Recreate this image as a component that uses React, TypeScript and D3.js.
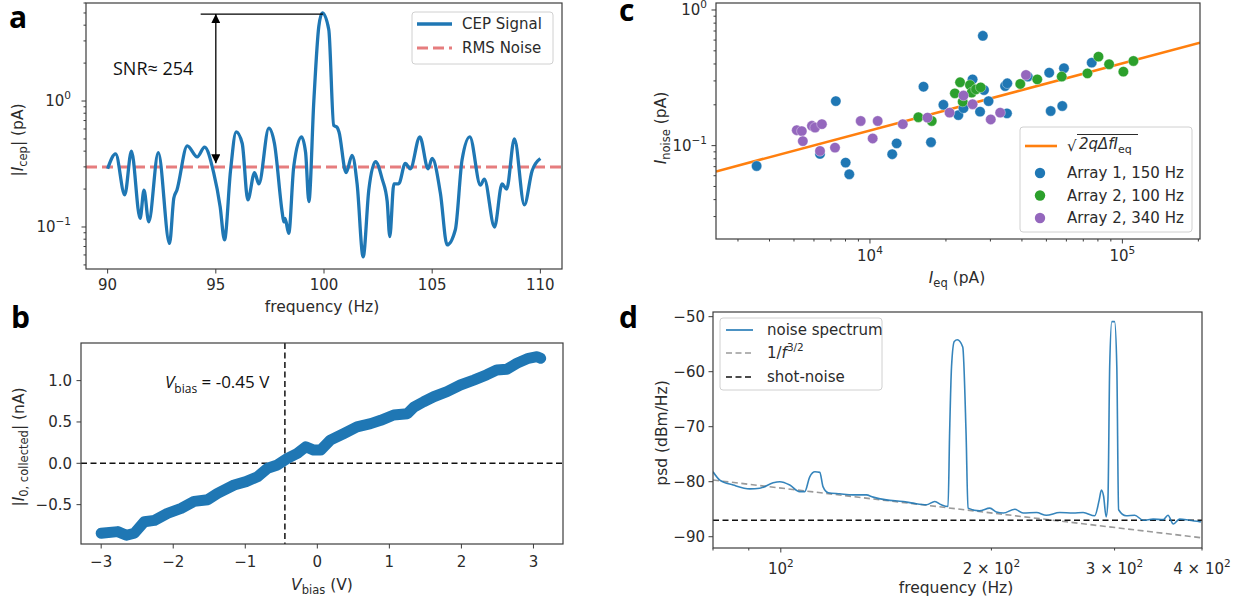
import React from "react";
import * as d3 from "d3";

const FONT = "DejaVu Sans";
const ANNOT = "Open Sans";
const BLUE = "#1f77b4";
const ORANGE = "#ff7f0e";
const GREEN = "#2ca02c";
const PURPLE = "#9467bd";
const AXIS = "#3c3c3c";
const INK = "#2b2b2b";

// ---- panel a: CEP spectrum
const cepFreq = [90.0, 90.37, 90.79, 91.1, 91.5, 91.68, 91.9, 92.34, 92.86, 93.06, 93.2, 93.68, 94.14, 94.48, 94.9, 95.2, 95.4, 95.68, 95.94, 96.22, 96.48, 96.79, 96.99, 97.45, 97.71, 98.07, 98.14, 98.2, 98.37, 98.6, 98.96, 99.15, 99.3, 99.53, 99.76, 99.92, 100.22, 100.45, 100.6, 100.69, 101.02, 101.3, 101.53, 101.81, 102.07, 102.38, 102.69, 102.92, 103.04, 103.23, 103.45, 103.76, 103.99, 104.43, 104.81, 105.0, 105.38, 105.69, 106.07, 106.38, 106.74, 107.23, 107.41, 107.88, 108.23, 108.44, 108.8, 109.26, 109.62, 110.0];
const cepAmp = [0.29, 0.38, 0.18, 0.4, 0.117, 0.196, 0.11, 0.39, 0.074, 0.17, 0.196, 0.44, 0.36, 0.43, 0.27, 0.145, 0.079, 0.28, 0.57, 0.46, 0.164, 0.27, 0.22, 0.61, 0.46, 0.13, 0.11, 0.117, 0.089, 0.3, 0.52, 0.39, 0.159, 1.0, 3.9, 5.0, 3.7, 0.64, 0.62, 0.57, 0.27, 0.37, 0.22, 0.058, 0.196, 0.33, 0.24, 0.16, 0.084, 0.22, 0.22, 0.32, 0.29, 0.52, 0.29, 0.35, 0.185, 0.072, 0.095, 0.34, 0.52, 0.215, 0.24, 0.1, 0.22, 0.2, 0.5, 0.15, 0.28, 0.35];
const rmsNoise = 0.3;
const snrTop = 4.9;
const snrBottom = 0.32;
const snrArrowFreq = 95;
const snrBarFreq = [94.3, 99.95];
const aXTicks = [90, 95, 100, 105, 110];
const aYTicks = [1, 0.1];
const aYExp = ["0", "\u22121"];

// ---- panel b: I-V curve
const biasV = [-3.0, -2.77, -2.65, -2.54, -2.4, -2.26, -2.08, -1.89, -1.71, -1.52, -1.385, -1.155, -0.99, -0.83, -0.69, -0.554, -0.415, -0.277, -0.16, -0.05, 0.046, 0.18, 0.37, 0.55, 0.74, 0.88, 1.06, 1.25, 1.34, 1.476, 1.615, 1.8, 1.985, 2.17, 2.35, 2.49, 2.63, 2.77, 2.93, 3.05, 3.1];
const biasI = [-0.846, -0.826, -0.87, -0.846, -0.706, -0.69, -0.605, -0.545, -0.46, -0.44, -0.363, -0.262, -0.222, -0.162, -0.06, -0.02, 0.06, 0.12, 0.2, 0.16, 0.16, 0.28, 0.36, 0.44, 0.48, 0.52, 0.584, 0.6, 0.68, 0.745, 0.805, 0.866, 0.947, 1.007, 1.07, 1.128, 1.137, 1.21, 1.27, 1.29, 1.27];
const vZero = -0.45;
const bXTicks = [-3, -2, -1, 0, 1, 2, 3];
const bYTicks = [-0.5, 0, 0.5, 1.0];

// ---- panel c: noise vs current
const array1: [number, number][] = [[3556, 0.0708], [6340, 0.0869], [7325, 0.213], [8010, 0.075], [8280, 0.0615], [12250, 0.0865], [12760, 0.104], [16300, 0.272], [17450, 0.106], [19540, 0.2], [22400, 0.168], [23470, 0.189], [25500, 0.308], [27300, 0.178], [28000, 0.645], [28300, 0.257], [29500, 0.213], [34300, 0.275], [35000, 0.288], [34900, 0.173], [42200, 0.323], [51300, 0.345], [52000, 0.18], [58700, 0.372], [57800, 0.196], [75600, 0.409]];
const array2at100: [number, number][] = [[15550, 0.162], [17570, 0.152], [21700, 0.243], [22750, 0.293], [23300, 0.211], [24900, 0.28], [25300, 0.246], [26300, 0.26], [27450, 0.269], [39400, 0.285], [46000, 0.308], [57500, 0.323], [72700, 0.341], [80400, 0.453], [88600, 0.398], [100900, 0.351], [110600, 0.421]];
const array2at340: [number, number][] = [[5130, 0.13], [5370, 0.128], [5420, 0.108], [5890, 0.14], [6060, 0.136], [6450, 0.144], [6340, 0.0913], [7270, 0.0967], [9190, 0.152], [10250, 0.113], [10730, 0.152], [13490, 0.144], [16900, 0.161], [20670, 0.175], [23470, 0.234], [25500, 0.202], [30100, 0.156], [32800, 0.175], [41500, 0.332]];
const fitIeq = [2455, 203000];
const fitNoise = [0.0645, 0.574];
const cSeries = [
  { name: "Array 1, 150 Hz", color: BLUE, pts: array1 },
  { name: "Array 2, 100 Hz", color: GREEN, pts: array2at100 },
  { name: "Array 2, 340 Hz", color: PURPLE, pts: array2at340 },
];

// ---- panel d: noise spectrum
const psdFreq = [80.0, 81.8, 85.5, 90.3, 93.3, 97.5, 99.7, 103, 106.4, 108.2, 110, 111.9, 113.7, 114.9, 116.9, 121.4, 126.8, 132.5, 135.5, 141.5, 149.6, 154.5, 161.5, 166, 169.7, 173.4, 174.3, 175.4, 177, 178.8, 182, 184, 185.2, 192.3, 199, 203.3, 208, 216, 222, 232, 239.6, 250.4, 261.7, 270.5, 281, 285.2, 287.3, 289.3, 291.8, 293.5, 295.2, 297.3, 300, 302.2, 304, 311.6, 320.5, 329.6, 340.6, 352, 357.6, 364, 371.5, 383.7, 398.5];
const psdVal = [-78.2, -79.7, -80.6, -81.3, -81.2, -80.2, -80.0, -80.6, -81.8, -81.8, -79.1, -78.2, -78.3, -80.9, -82.0, -82.2, -82.4, -82.4, -82.8, -83.3, -83.6, -83.9, -84.2, -83.6, -84.2, -84.5, -71.2, -59.1, -54.5, -54.2, -55.5, -71.2, -84.8, -85.3, -84.8, -85.5, -85.7, -85.0, -85.7, -85.6, -86.1, -85.6, -85.7, -85.6, -86.2, -83.3, -81.5, -82.6, -86.4, -83.3, -59.1, -50.9, -50.9, -59.1, -85.1, -86.2, -86.1, -87.0, -86.8, -86.9, -86.1, -87.7, -86.8, -87.0, -87.3];
const shotNoise = -87;
const powerLawF = [80, 400];
const powerLawPsd = [-79.7, -90.2];
const dXTicks = [100, 200, 300, 400];
const dXPrefix = ["", "2 \u00d7 ", "3 \u00d7 ", "4 \u00d7 "];
const dYTicks = [-50, -60, -70, -80, -90];

// scales
const xA = d3.scaleLinear().domain([89, 111]).range([86, 562]);
const yA = d3.scaleLog().domain([0.0464, 6.0]).range([269, 3]);
const xB = d3.scaleLinear().domain([-3.28, 3.41]).range([81, 563]);
const yB = d3.scaleLinear().domain([-0.976, 1.455]).range([544, 343]);
const xC = d3.scaleLog().domain([2455, 203000]).range([716, 1200]);
const yC = d3.scaleLog().domain([0.0205, 1.126]).range([239, 3]);
const xD = d3.scaleLog().domain([80, 400]).range([713, 1202]);
const yD = d3.scaleLinear().domain([-92.05, -49.15]).range([548, 312]);

const fmtInt = d3.format("d");
const fmt1 = d3.format(".1f");

function logMinor(lo: number, hi: number) {
  const out: number[] = [];
  for (let e = Math.floor(Math.log10(lo)); e <= Math.ceil(Math.log10(hi)); e++) {
    for (let k = 2; k <= 9; k++) {
      const v = k * Math.pow(10, e);
      if (v >= lo * 0.999 && v <= hi * 1.001) out.push(v);
    }
  }
  return out;
}

function Frame({ x, y }: { x: any; y: any }) {
  const [x0, x1] = x.range();
  const [y1, y0] = y.range();
  return <rect x={x0} y={y0} width={x1 - x0} height={y1 - y0} fill="none" stroke={AXIS} strokeWidth={1.2} />;
}

function BottomTicks({ x, y, ticks, len = 4.5 }: any) {
  const yb = y.range()[0];
  return (
    <g stroke={AXIS} strokeWidth={1}>
      {ticks.map((t: number, i: number) => (
        <line key={i} x1={x(t)} x2={x(t)} y1={yb} y2={yb + len} />
      ))}
    </g>
  );
}

function LeftTicks({ x, y, ticks, len = 4.5 }: any) {
  const xl = x.range()[0];
  return (
    <g stroke={AXIS} strokeWidth={1}>
      {ticks.map((t: number, i: number) => (
        <line key={i} x1={xl - len} x2={xl} y1={y(t)} y2={y(t)} />
      ))}
    </g>
  );
}

const tickText = { fontFamily: FONT, fontSize: 15, fill: INK } as const;
const labelText = { fontFamily: FONT, fontSize: 15.5, fill: INK } as const;

function PanelA() {
  const line = d3.line<number>().x((_, i) => xA(cepFreq[i])).y((d) => yA(d)).curve(d3.curveMonotoneX);
  return (
    <g>
      <defs>
        <clipPath id="clipA"><rect x={86} y={3} width={476} height={266} /></clipPath>
        <marker id="arrowHead" viewBox="0 0 10 10" refX={10} refY={5} markerWidth={7} markerHeight={7} orient="auto-start-reverse">
          <path d="M0,0 L10,5 L0,10 z" fill="#000" />
        </marker>
      </defs>
      <g clipPath="url(#clipA)">
        <line x1={86} x2={562} y1={yA(rmsNoise)} y2={yA(rmsNoise)} stroke="#e67d7e" strokeWidth={3} strokeDasharray="11,5" />
        <path d={line(cepAmp) || ""} fill="none" stroke={BLUE} strokeWidth={3.3} strokeLinejoin="round" />
      </g>
      <line x1={xA(snrBarFreq[0])} x2={xA(snrBarFreq[1])} y1={yA(snrTop)} y2={yA(snrTop)} stroke="#000" strokeWidth={1.3} />
      <line x1={xA(snrArrowFreq)} x2={xA(snrArrowFreq)} y1={yA(snrTop)} y2={yA(snrBottom)} stroke="#000" strokeWidth={1.3}
        markerStart="url(#arrowHead)" markerEnd="url(#arrowHead)" />
      <text x={113} y={75} fontFamily={ANNOT} fontSize={18} fill="#111">SNR≈ 254</text>
      <Frame x={xA} y={yA} />
      <BottomTicks x={xA} y={yA} ticks={aXTicks} />
      <LeftTicks x={xA} y={yA} ticks={aYTicks} />
      <LeftTicks x={xA} y={yA} ticks={logMinor(0.0464, 6.0).filter((v) => v !== 1)} len={2.5} />
      {aXTicks.map((t, i) => (
        <text key={i} x={xA(t)} y={290} textAnchor="middle" {...tickText}>{fmtInt(t)}</text>
      ))}
      {aYTicks.map((t, i) => (
        <text key={i} x={71} y={yA(t) + 5} textAnchor="end" {...tickText}>
          10<tspan dy={-7} fontSize={10.5}>{aYExp[i]}</tspan>
        </text>
      ))}
      <text x={322} y={312} textAnchor="middle" {...labelText}>frequency (Hz)</text>
      <text transform="translate(23,140) rotate(-90)" textAnchor="middle" {...labelText}>
        |<tspan fontStyle="italic">I</tspan><tspan dy={4} fontSize={11.5}>cep</tspan><tspan dy={-4}>| (pA)</tspan>
      </text>
      {/* legend */}
      <rect x={412} y={12} width={141} height={52} rx={3} fill="#fff" stroke="#d0d0d0" />
      <line x1={417} x2={452} y1={24} y2={24} stroke={BLUE} strokeWidth={3.3} />
      <text x={462} y={29} {...tickText}>CEP Signal</text>
      <line x1={417} x2={452} y1={48} y2={48} stroke="#e67d7e" strokeWidth={3} strokeDasharray="11,5" />
      <text x={462} y={53} {...tickText}>RMS Noise</text>
      <text x={9} y={28} fontFamily={ANNOT} fontWeight={700} fontSize={30} fill="#000">a</text>
    </g>
  );
}

function PanelB() {
  const line = d3.line<number>().x((_, i) => xB(biasV[i])).y((d) => yB(d));
  return (
    <g>
      <line x1={81} x2={563} y1={yB(0)} y2={yB(0)} stroke="#111" strokeWidth={1.5} strokeDasharray="6,3.5" />
      <line x1={xB(vZero)} x2={xB(vZero)} y1={343} y2={544} stroke="#111" strokeWidth={1.5} strokeDasharray="6,3.5" />
      <path d={line(biasI) || ""} fill="none" stroke={BLUE} strokeWidth={11} strokeLinejoin="round" strokeLinecap="round" />
      <text x={165} y={388} fontFamily={ANNOT} fontSize={17} fill="#111">
        <tspan fontStyle="italic">V</tspan><tspan dy={5} fontSize={12}>bias</tspan><tspan dy={-5}> = -0.45 V</tspan>
      </text>
      <Frame x={xB} y={yB} />
      <BottomTicks x={xB} y={yB} ticks={bXTicks} />
      <LeftTicks x={xB} y={yB} ticks={bYTicks} />
      {bXTicks.map((t, i) => (
        <text key={i} x={xB(t)} y={567} textAnchor="middle" {...tickText}>{fmtInt(t)}</text>
      ))}
      {bYTicks.map((t, i) => (
        <text key={i} x={72} y={yB(t) + 5.5} textAnchor="end" {...tickText}>{fmt1(t)}</text>
      ))}
      <text x={322} y={590} textAnchor="middle" {...labelText}>
        <tspan fontStyle="italic">V</tspan><tspan dy={4} fontSize={11.5}>bias</tspan><tspan dy={-4}> (V)</tspan>
      </text>
      <text transform="translate(24,447) rotate(-90)" textAnchor="middle" {...labelText}>
        |<tspan fontStyle="italic">I</tspan><tspan dy={4} fontSize={11.5}>0, collected</tspan><tspan dy={-4}>| (nA)</tspan>
      </text>
      <text x={11} y={328} fontFamily={ANNOT} fontWeight={700} fontSize={30} fill="#000">b</text>
    </g>
  );
}

function PanelC() {
  const fit = d3.line<number>().x((_, i) => xC(fitIeq[i])).y((d) => yC(d));
  const legendRows = [173, 195.5, 218];
  return (
    <g>
      <defs>
        <clipPath id="clipC"><rect x={716} y={3} width={484} height={236} /></clipPath>
      </defs>
      <g clipPath="url(#clipC)">
        <path d={fit(fitNoise) || ""} fill="none" stroke={ORANGE} strokeWidth={2.6} />
        {cSeries.map((s) => (
          <g key={s.name} fill={s.color}>
            {s.pts.map((p, i) => (
              <circle key={i} cx={xC(p[0])} cy={yC(p[1])} r={5.2} stroke="#fff" strokeOpacity={0.6} strokeWidth={0.6} />
            ))}
          </g>
        ))}
      </g>
      <Frame x={xC} y={yC} />
      <BottomTicks x={xC} y={yC} ticks={[1e4, 1e5]} />
      <BottomTicks x={xC} y={yC} ticks={logMinor(2455, 203000).filter((v) => v !== 1e4 && v !== 1e5)} len={2.5} />
      <LeftTicks x={xC} y={yC} ticks={[1, 0.1]} />
      <LeftTicks x={xC} y={yC} ticks={logMinor(0.0205, 1.126).filter((v) => v !== 1 && v !== 0.1)} len={2.5} />
      {[1e4, 1e5].map((t, i) => (
        <text key={i} x={xC(t)} y={261} textAnchor="middle" {...tickText}>
          10<tspan dy={-7} fontSize={10.5}>{i === 0 ? "4" : "5"}</tspan>
        </text>
      ))}
      {[1, 0.1].map((t, i) => (
        <text key={i} x={707} y={yC(t) + 5} textAnchor="end" {...tickText}>
          10<tspan dy={-7} fontSize={10.5}>{i === 0 ? "0" : "\u22121"}</tspan>
        </text>
      ))}
      <text x={957} y={283} textAnchor="middle" {...labelText}>
        <tspan fontStyle="italic">I</tspan><tspan dy={4} fontSize={11.5}>eq</tspan><tspan dy={-4}> (pA)</tspan>
      </text>
      <text transform="translate(666,128) rotate(-90)" textAnchor="middle" {...labelText}>
        <tspan fontStyle="italic">I</tspan><tspan dy={4} fontSize={11.5}>noise</tspan><tspan dy={-4}> (pA)</tspan>
      </text>
      {/* legend */}
      <rect x={1020} y={127} width={172} height={105} rx={3} fill="#fff" fillOpacity={0.85} stroke="#d0d0d0" />
      <line x1={1025} x2={1057} y1={146} y2={146} stroke={ORANGE} strokeWidth={2.6} />
      <text x={1067} y={151} {...tickText}>√</text>
      <line x1={1077} x2={1138} y1={134.5} y2={134.5} stroke={INK} strokeWidth={1} />
      <text x={1079} y={149} {...tickText} fontStyle="italic">
        2qΔfI<tspan dy={4} fontSize={11} fontStyle="normal">eq</tspan>
      </text>
      {cSeries.map((s, i) => (
        <g key={s.name}>
          <circle cx={1040} cy={legendRows[i]} r={5.2} fill={s.color} />
          <text x={1067} y={legendRows[i] + 5} {...tickText}>{s.name}</text>
        </g>
      ))}
      <text x={619} y={21} fontFamily={ANNOT} fontWeight={700} fontSize={30} fill="#000">c</text>
    </g>
  );
}

function PanelD() {
  const spec = d3.line<number>().x((_, i) => xD(psdFreq[i])).y((d) => yD(d)).curve(d3.curveMonotoneX);
  const pl = d3.line<number>().x((_, i) => xD(powerLawF[i])).y((d) => yD(d));
  return (
    <g>
      <defs>
        <clipPath id="clipD"><rect x={713} y={312} width={489} height={236} /></clipPath>
      </defs>
      <g clipPath="url(#clipD)">
        <path d={pl(powerLawPsd) || ""} fill="none" stroke="#9a9a9a" strokeWidth={1.6} strokeDasharray="6,3.5" />
        <line x1={713} x2={1202} y1={yD(shotNoise)} y2={yD(shotNoise)} stroke="#111" strokeWidth={1.6} strokeDasharray="6,3.5" />
        <path d={spec(psdVal) || ""} fill="none" stroke={BLUE} strokeWidth={1.6} strokeOpacity={0.9} />
      </g>
      <Frame x={xD} y={yD} />
      <BottomTicks x={xD} y={yD} ticks={[100]} />
      <BottomTicks x={xD} y={yD} ticks={logMinor(80, 400)} len={2.5} />
      <LeftTicks x={xD} y={yD} ticks={dYTicks} />
      {dXTicks.map((t, i) => (
        <text key={i} x={xD(t)} y={574} textAnchor="middle" {...tickText}>
          {dXPrefix[i]}10<tspan dy={-7} fontSize={10.5}>2</tspan>
        </text>
      ))}
      {dYTicks.map((t, i) => (
        <text key={i} x={705} y={yD(t) + 5.5} textAnchor="end" {...tickText}>{fmtInt(t)}</text>
      ))}
      <text x={956} y={593} textAnchor="middle" {...labelText}>frequency (Hz)</text>
      <text transform="translate(667,433) rotate(-90)" textAnchor="middle" {...labelText}>psd (dBm/Hz)</text>
      {/* legend */}
      <rect x={720} y={318} width={162} height={72} rx={3} fill="#fff" stroke="#d0d0d0" />
      <line x1={726} x2={753} y1={330} y2={330} stroke={BLUE} strokeWidth={1.6} />
      <text x={767} y={335} {...tickText}>noise spectrum</text>
      <line x1={726} x2={753} y1={353} y2={353} stroke="#9a9a9a" strokeWidth={1.6} strokeDasharray="6,3.5" />
      <text x={767} y={358} {...tickText}>
        1/<tspan fontStyle="italic">f</tspan><tspan dy={-7} fontSize={10.5}>3/2</tspan>
      </text>
      <line x1={726} x2={753} y1={377} y2={377} stroke="#111" strokeWidth={1.6} strokeDasharray="6,3.5" />
      <text x={767} y={382} {...tickText}>shot-noise</text>
      <text x={619} y={328} fontFamily={ANNOT} fontWeight={700} fontSize={30} fill="#000">d</text>
    </g>
  );
}

export default function App() {
  return (
    <svg width={1242} height={602} style={{ position: "absolute", left: 0, top: 0, background: "#fff" }}>
      <PanelA />
      <PanelB />
      <PanelC />
      <PanelD />
    </svg>
  );
}
